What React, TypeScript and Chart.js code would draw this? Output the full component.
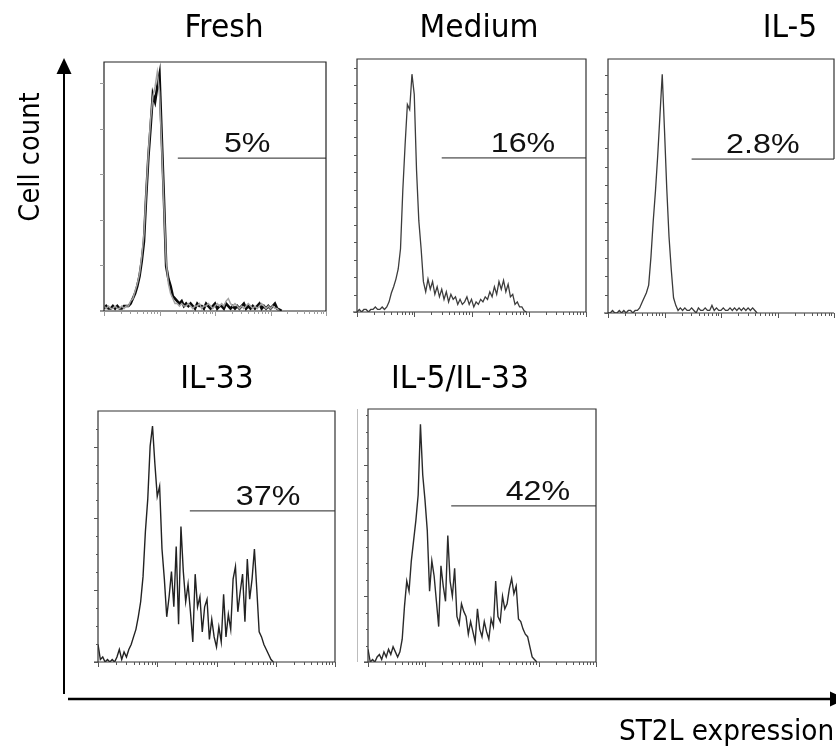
import { useEffect, useRef } from "react";
import { Chart, registerables } from "chart.js";

Chart.register(...registerables);

const W = 836;
const H = 752;

// ---- data (x = log decades of ST2L fluorescence, bin width 0.04 decade; y = % of panel max count) ----
const BIN_WIDTH = 0.04;
const X_DECADES = [0, 1, 2, 3, 4];

const FRESH_BLACK = [
  1, 2, 1, 1, 2, 1, 2, 1, 1, 2, 2,
  2, 3, 5, 7, 10, 14, 20, 28, 46,
  62, 74, 87, 84, 90, 95, 70, 45, 18, 13,
  10, 6, 5, 4, 3, 4, 2, 3, 2, 3,
  2, 1, 3, 2, 2, 1, 3, 2, 1, 2,
  3, 1, 2, 2, 1, 3, 2, 1, 2, 1,
  2, 1, 2, 3, 1, 2, 1, 2, 1, 2,
  3, 1, 2, 1, 2, 1, 2, 3, 1, 0.5,
  0,
];
const FRESH_GRAY = [
  2, 1, 2, 1, 1, 2, 1, 1, 2, 1, 2,
  2, 4, 5, 8, 11, 15, 22, 31, 48,
  64, 77, 86, 90, 96, 88, 66, 42, 20, 11,
  7, 5, 3, 3, 2, 3, 2, 2, 3, 2,
  1, 2, 2, 3, 1, 2, 2, 3, 2, 1,
  2, 3, 2, 3, 2, 4, 5, 3, 2, 3,
  2, 1, 2, 1, 2, 3, 2, 1, 2, 1,
  2, 3, 2, 1, 2, 1, 2, 1, 1, 0,
];
const MEDIUM = [
  0, 1, 0, 1, 1, 0, 1, 1, 2, 1, 1, 2, 1, 2,
  4, 7.5, 10, 13, 17, 25,
  48, 66, 82, 80, 94, 86, 56, 36, 25, 12,
  8, 13, 9, 12, 7, 10, 6, 9, 5, 8,
  4, 7, 5, 6, 3, 5, 3, 4, 6, 3,
  5, 2, 4, 3, 5, 4, 6, 5, 8, 6,
  10, 7, 12, 9, 12.5, 8, 11, 6, 7, 3,
  4, 2, 2, 0.5, 0,
];
const IL5 = [
  0, 0, 1, 0, 0, 1, 0, 1, 0, 1, 1, 0, 1, 1,
  2, 4, 6, 8, 11, 22,
  36, 48, 62, 78, 94, 72, 49, 30, 17, 6,
  3, 1, 2, 1, 2, 1, 1, 2, 1, 0,
  2, 1, 1, 2, 1, 1, 3, 1, 2, 1,
  1, 2, 1, 1, 2, 1, 2, 1, 2, 1,
  2, 1, 2, 1, 2, 1, 0,
];
const IL33 = [
  7, 1, 2, 0, 1, 0, 1, 0, 2, 5,
  1, 4, 2, 5, 7, 10, 13, 18, 24, 34,
  52, 65, 86, 94, 79, 66, 70, 45, 33, 18,
  26, 36, 22, 46, 15, 54, 36, 24, 31, 20,
  8, 35, 22, 26, 12, 22, 25, 9, 17, 10,
  6, 14, 8, 27, 10, 19, 13, 33, 38, 20,
  28, 35, 16, 41, 25, 33, 45, 29, 12, 10,
  7, 5, 3, 1, 0,
];
const IL5_IL33 = [
  5, 0, 1, 0, 2, 3, 1, 4, 2, 5,
  3, 6, 4, 2, 4, 9, 22, 32, 28, 40,
  48, 56, 66, 94, 74, 64, 52, 28, 40, 34,
  24, 14, 38, 30, 24, 50, 32, 26, 37, 18,
  15, 23, 20, 18, 11, 16, 12, 8, 21, 13,
  10, 16, 12, 9, 17, 14, 32, 18, 16, 26,
  21, 23, 29, 33, 27, 30, 17, 16, 13, 11,
  10, 6, 2, 1, 0,
];

const PANEL_TITLES = ["Fresh", "Medium", "IL-5", "IL-33", "IL-5/IL-33"];
const PANEL_SERIES = [[FRESH_BLACK, FRESH_GRAY], [MEDIUM], [IL5], [IL33], [IL5_IL33]];
const GATE_LABELS = ["5%", "16%", "2.8%", "37%", "42%"];
const GATE_START = [1.33, 1.48, 1.48, 1.55, 1.46];
const GATE_LEVEL = [61.4, 60.9, 60.6, 60.2, 61.7];
const GATE_LABEL_CENTER = [2.58, 2.9, 2.74, 2.87, 2.98];
const Y_AXIS_LABEL = "Cell count";
const X_AXIS_LABEL = "ST2L expression";

// ---- layout & styles ----
const PANEL_BOXES = [
  { l: 104, t: 62, r: 326, b: 311, titleX: 224, titleY: 37 },
  { l: 357, t: 59, r: 586, b: 312, titleX: 479, titleY: 37 },
  { l: 608, t: 59, r: 834, b: 313, titleX: 790, titleY: 37 },
  { l: 98, t: 411, r: 335, b: 662, titleX: 217, titleY: 388 },
  { l: 368, t: 409, r: 596, b: 662, titleX: 460, titleY: 388 },
];
const PANEL_STYLE = [
  { border: "#222", tick: "#9a9a9a", yStep: 18.3, yLen: 4, yMinor: 0, rightToGate: false, sideLine: false },
  { border: "#333", tick: "#555", yStep: 6.9, yLen: 3, yMinor: 0, rightToGate: false, sideLine: false },
  { border: "#333", tick: "#555", yStep: 7.2, yLen: 3, yMinor: 0, rightToGate: true, sideLine: false },
  { border: "#333", tick: "#555", yStep: 28.6, yLen: 4, yMinor: 7.15, rightToGate: false, sideLine: false },
  { border: "#333", tick: "#555", yStep: 26, yLen: 4, yMinor: 6.5, rightToGate: false, sideLine: true },
];
const SERIES_STYLE = [
  [{ color: "#0a0a0a", width: 2.6 }, { color: "#a3a3a3", width: 1.5 }],
  [{ color: "#3c3c3c", width: 1.3 }],
  [{ color: "#3a3a3a", width: 1.3 }],
  [{ color: "#222222", width: 1.4 }],
  [{ color: "#2a2a2a", width: 1.4 }],
];

function toPoints(values: number[]) {
  return values.map((v, i) => ({ x: i * BIN_WIDTH, y: v }));
}

function panelPlugin(idx: number) {
  return {
    id: "panelDeco" + idx,
    afterDatasetsDraw(chart: any) {
      const ctx = chart.ctx as CanvasRenderingContext2D;
      const { left, right, top, bottom } = chart.chartArea;
      const xs = chart.scales.x;
      const ys = chart.scales.y;
      const st = PANEL_STYLE[idx];
      const box = PANEL_BOXES[idx];
      ctx.save();
      // frame
      ctx.strokeStyle = st.border;
      ctx.lineWidth = 1.2;
      ctx.beginPath();
      ctx.moveTo(left, bottom);
      ctx.lineTo(left, top);
      ctx.lineTo(right, top);
      ctx.lineTo(right, st.rightToGate ? ys.getPixelForValue(GATE_LEVEL[idx]) : bottom);
      ctx.stroke();
      ctx.beginPath();
      ctx.moveTo(left - 4, bottom);
      ctx.lineTo(right, bottom);
      ctx.stroke();
      if (st.sideLine) {
        ctx.strokeStyle = "#bdbdbd";
        ctx.lineWidth = 1;
        ctx.beginPath();
        ctx.moveTo(left - 10.5, top);
        ctx.lineTo(left - 10.5, bottom);
        ctx.stroke();
      }
      // log x ticks
      ctx.strokeStyle = st.tick;
      ctx.lineWidth = 1;
      for (let d = 0; d < X_DECADES.length; d++) {
        const dec = X_DECADES[d];
        for (let k = 1; k <= 9; k++) {
          if (dec === 4 && k > 1) break;
          const px = Math.round(xs.getPixelForValue(dec + Math.log10(k))) + 0.5;
          const len = k === 1 ? 5 : 3;
          ctx.beginPath();
          ctx.moveTo(px, bottom);
          ctx.lineTo(px, bottom + len);
          ctx.stroke();
        }
      }
      // y ticks
      for (let v = 0; v <= 100.01; v += st.yStep) {
        const py = Math.round(ys.getPixelForValue(v)) + 0.5;
        ctx.beginPath();
        ctx.moveTo(left - st.yLen, py);
        ctx.lineTo(left, py);
        ctx.stroke();
      }
      if (st.yMinor) {
        for (let v = 0; v <= 100.01; v += st.yMinor) {
          const py = Math.round(ys.getPixelForValue(v)) + 0.5;
          ctx.beginPath();
          ctx.moveTo(left - 2, py);
          ctx.lineTo(left, py);
          ctx.stroke();
        }
      }
      // title
      ctx.fillStyle = "#000";
      ctx.textAlign = "center";
      ctx.textBaseline = "alphabetic";
      ctx.font = "32px 'DejaVu Sans'";
      ctx.save();
      ctx.translate(box.titleX, box.titleY);
      ctx.scale(0.93, 1);
      ctx.fillText(PANEL_TITLES[idx], 0, 0);
      ctx.restore();
      // gate label
      ctx.font = "28px 'Liberation Sans'";
      ctx.fillStyle = "#111";
      ctx.save();
      ctx.translate(xs.getPixelForValue(GATE_LABEL_CENTER[idx]), ys.getPixelForValue(GATE_LEVEL[idx]) - 6);
      ctx.scale(1.15, 1);
      ctx.fillText(GATE_LABELS[idx], 0, 0);
      ctx.restore();
      ctx.restore();
    },
  };
}

const axesPlugin = {
  id: "globalAxes",
  afterDraw(chart: any) {
    const ctx = chart.ctx as CanvasRenderingContext2D;
    ctx.save();
    ctx.strokeStyle = "#000";
    ctx.fillStyle = "#000";
    ctx.lineWidth = 2;
    ctx.beginPath();
    ctx.moveTo(64, 694);
    ctx.lineTo(64, 70);
    ctx.stroke();
    ctx.beginPath();
    ctx.moveTo(64, 58);
    ctx.lineTo(56.5, 74);
    ctx.lineTo(71.5, 74);
    ctx.closePath();
    ctx.fill();
    ctx.lineWidth = 2.5;
    ctx.beginPath();
    ctx.moveTo(68, 699);
    ctx.lineTo(832, 699);
    ctx.stroke();
    ctx.beginPath();
    ctx.moveTo(846, 699);
    ctx.lineTo(830, 691.5);
    ctx.lineTo(830, 706.5);
    ctx.closePath();
    ctx.fill();
    ctx.font = "29px 'DejaVu Sans'";
    ctx.textBaseline = "alphabetic";
    ctx.save();
    ctx.translate(39, 157);
    ctx.rotate(-Math.PI / 2);
    ctx.scale(0.89, 1);
    ctx.textAlign = "center";
    ctx.fillText(Y_AXIS_LABEL, 0, 0);
    ctx.restore();
    ctx.save();
    ctx.translate(619, 740);
    ctx.scale(0.91, 1);
    ctx.textAlign = "left";
    ctx.fillText(X_AXIS_LABEL, 0, 0);
    ctx.restore();
    ctx.restore();
  },
};

export default function App() {
  const refs = useRef<(HTMLCanvasElement | null)[]>([]);

  useEffect(() => {
    const charts: Chart[] = [];
    PANEL_TITLES.forEach((_, idx) => {
      const canvas = refs.current[idx];
      if (!canvas) return;
      const box = PANEL_BOXES[idx];
      const datasets: any[] = PANEL_SERIES[idx].map((vals, s) => ({
        data: toPoints(vals),
        borderColor: SERIES_STYLE[idx][s].color,
        borderWidth: SERIES_STYLE[idx][s].width,
        pointRadius: 0,
        tension: 0,
        fill: false,
        order: PANEL_SERIES[idx].length - s + 1,
      }));
      datasets.push({
        data: [
          { x: GATE_START[idx], y: GATE_LEVEL[idx] },
          { x: 4, y: GATE_LEVEL[idx] },
        ],
        borderColor: "#222",
        borderWidth: 1,
        pointRadius: 0,
        fill: false,
        order: 0,
      });
      const plugins: any[] = [panelPlugin(idx)];
      if (idx === 0) plugins.push(axesPlugin);
      charts.push(
        new Chart(canvas, {
          type: "line",
          data: { datasets },
          options: {
            animation: false,
            responsive: false,
            maintainAspectRatio: false,
            devicePixelRatio: 1,
            events: [],
            layout: {
              padding: { left: box.l, top: box.t, right: W - box.r, bottom: H - box.b },
            },
            plugins: { legend: { display: false }, tooltip: { enabled: false }, title: { display: false } },
            scales: {
              x: { type: "linear", min: 0, max: 4, display: false },
              y: { type: "linear", min: 0, max: 100, display: false },
            },
          },
          plugins,
        })
      );
    });
    return () => charts.forEach((c) => c.destroy());
  }, []);

  return (
    <div style={{ position: "fixed", left: 0, top: 0, width: W, height: H, background: "#fff", overflow: "hidden" }}>
      {PANEL_TITLES.map((t, i) => (
        <canvas
          key={t}
          ref={(el) => {
            refs.current[i] = el;
          }}
          width={W}
          height={H}
          style={{ position: "absolute", left: 0, top: 0, width: W, height: H }}
        />
      ))}
    </div>
  );
}
